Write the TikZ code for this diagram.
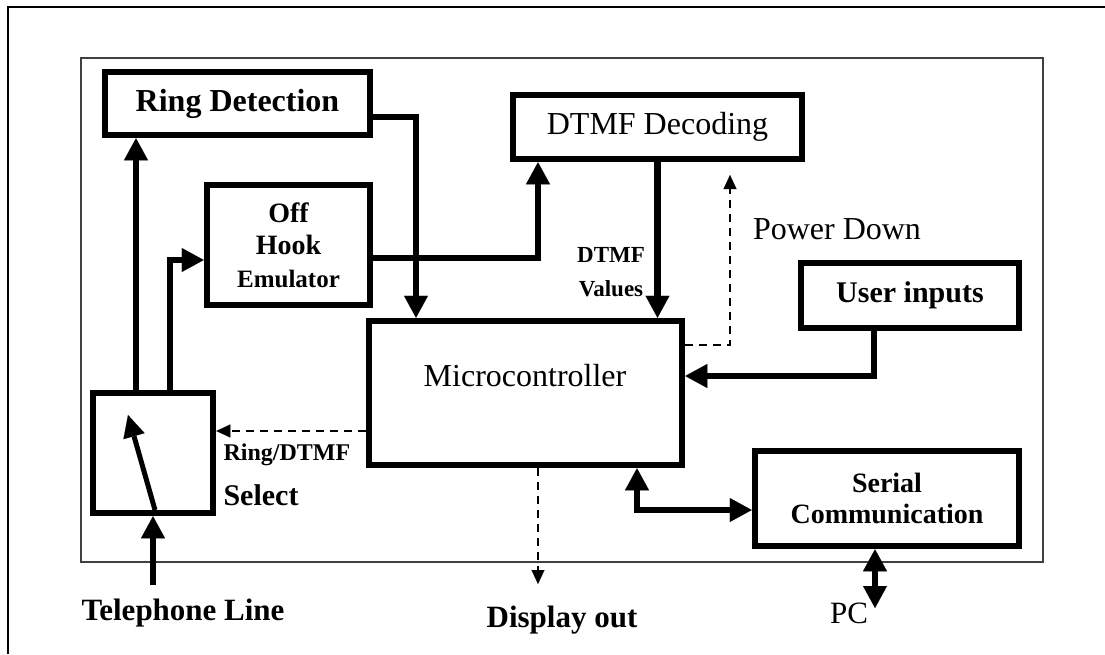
\documentclass[tikz,border=0pt]{standalone}
\usepackage{fontspec}
\setmainfont{Liberation Serif}
\usetikzlibrary{arrows.meta}
\tikzset{
  box/.style={draw, line width=6.5pt, inner sep=0pt, align=center},
  arr/.style={line width=6.5pt, -{Triangle[width=24pt,length=22pt,line width=0.1pt]}},
  biarr/.style={line width=6.5pt, {Triangle[width=24pt,length=22pt,line width=0.1pt]}-{Triangle[width=24pt,length=22pt,line width=0.1pt]}},
  darr/.style={line width=2.5pt, dash pattern=on 8pt off 6pt, -{Triangle[width=13pt,length=14pt,line width=0.1pt]}},
  reg/.style={font=\fontsize{32}{36}\selectfont},
  bld/.style={font=\bfseries\fontsize{31}{36}\selectfont},
}
\begin{document}
\begin{tikzpicture}[x=1pt,y=-1pt]
\useasboundingbox (0,0) rectangle (1105,654);
% frames
\draw[line width=2pt] (8,654) -- (8,7) -- (1105,7);
\draw[line width=2pt, black!75] (81,58) rectangle (1043,562);
% boxes
\node[box, minimum width=265pt, minimum height=63pt, bld, font=\bfseries\fontsize{32}{36}\selectfont] (rd) at (237.5,103.5) {Ring Detection};
\node[box, minimum width=163pt, minimum height=120pt, font=\bfseries\fontsize{28}{32.5}\selectfont] (oh) at (288.5,245) {Off\\Hook\\{\fontsize{25}{32.5}\selectfont Emulator}};
\node[box, minimum width=289pt, minimum height=64pt, reg] (dtmf) at (657.5,127) {DTMF Decoding};
\node[box, minimum width=313pt, minimum height=144pt] (mc) at (525.5,393) {};
\node[reg] (mctext) at (525,376) {Microcontroller};
\node[box, minimum width=218pt, minimum height=65pt, font=\bfseries\fontsize{30}{36}\selectfont] (ui) at (910,295.5) {User inputs};
\node[box, minimum width=264pt, minimum height=95pt, font=\bfseries\fontsize{28}{31}\selectfont] (sc) at (887,498.5) {Serial\\Communication};
\node[box, minimum width=120pt, minimum height=120pt] (sw) at (153,453) {};
% labels
\node[reg] (pdl) at (837,229) {Power Down};
\node[align=center, font=\bfseries\fontsize{23}{34}\selectfont] (dv) at (611,272) {DTMF\\Values};
\node[anchor=west, font=\bfseries\fontsize{24}{28}\selectfont] (rdsel) at (220,455) {Ring/DTMF};
\node[anchor=west, font=\bfseries\fontsize{30}{34}\selectfont] (sel) at (220,495) {Select};
\node[bld] (tel) at (183,613) {Telephone Line};
\node[bld] (disp) at (562,620) {Display out};
\node[font=\fontsize{31}{36}\selectfont] (pcl) at (849,613) {PC};
% coordinates
\coordinate (pd) at (730,175);
\coordinate (dispend) at (538,584);
\coordinate (pcend) at (875,608);
\coordinate (tl) at (153,585);
% connectors
\draw[arr] ([xshift=-17pt]sw.north) -- ([xshift=-17pt]sw.north |- rd.south);
\draw[arr] ([xshift=17pt]sw.north) |- ([yshift=-15pt]oh.west);
\draw[arr] ([yshift=-13.5pt]rd.east) -| ([xshift=-109.5pt]mc.north);
\draw[arr] ([yshift=-13pt]oh.east) -| ([xshift=-119.5pt]dtmf.south);
\draw[arr] (dtmf.south) -- (dtmf.south |- mc.north);
\draw[darr] ([yshift=48pt]mc.east) -| (pd);
\draw[arr] ([xshift=-36pt]ui.south) |- ([yshift=17pt]mc.east);
\draw[darr] ([yshift=-38pt]mc.west) -- ([yshift=-38pt]mc.west -| sw.east);
\draw[darr] (mc.south -| dispend) -- (dispend);
\draw[biarr] ([xshift=111.5pt]mc.south) |- ([yshift=-11.5pt]sc.west);
\draw[biarr] ([xshift=-12pt]sc.south) -- (pcend);
\draw[arr] (tl) -- (sw.south);
\draw[line width=5pt, -{Triangle[width=22pt,length=22pt,line width=0.1pt]}] (155,510) -- (128,415);
\end{tikzpicture}
\end{document}
